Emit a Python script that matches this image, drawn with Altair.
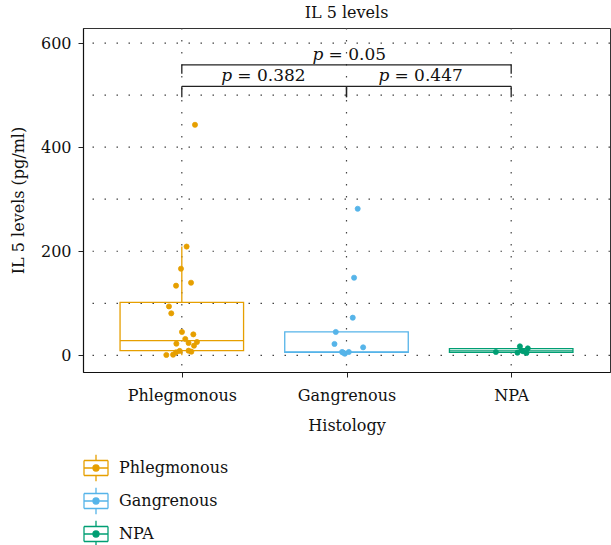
import json
import altair as alt
import pandas as pd

# ---------------- data ----------------
groups = ["Phlegmonous", "Gangrenous", "NPA"]
colors = ["#E69F00", "#56B4E9", "#009E73"]
group_pos = [1, 2, 3]

phleg_vals = [443, 209, 166.5, 139.6, 133.9, 94, 80.7, 45, 40.3, 31.5, 25.7, 23.8,
              22.5, 18.6, 9, 7.1, 8.5, 5.8, 1.3, 0.8]
phleg_jit = [0.080, 0.029, -0.005, 0.056, -0.035, -0.078, -0.064, 0.001, 0.070, 0.021,
             0.092, 0.041, -0.033, 0.074, 0.041, 0.058, -0.013, -0.035, -0.053, -0.094]
gang_vals = [281.7, 149.2, 72.4, 45, 21.9, 15.4, 6.5, 3.3, 6.5, 5.2]
gang_jit = [0.068, 0.046, 0.038, -0.065, -0.073, 0.101, -0.027, -0.010, 0.014, -0.020]
npa_vals = [6.5, 17.3, 13.4, 5.2, 7.7, 4.6, 9.5]
npa_jit = [-0.093, 0.053, 0.101, 0.038, 0.073, 0.093, 0.061]

q1 = [9, 5.8, 5.8]
median = [28.2, 6.5, 8.5]
q3 = [101.8, 45, 12.9]
whisk_lo = [0, 5.8, 5.8]
whisk_hi = [209, 45, 12.9]

br_x1 = [1, 1, 2]
br_x2 = [3, 2, 3]
br_y = [558, 517, 517]
br_tip = [541, 496, 496]
p_rest = ["= 0.05", "= 0.382", "= 0.447"]
p_x = [1.794, 1.240, 2.194]
p_y = [568, 527.5, 527.5]

y_grid = [0, 100, 200, 300, 400, 500, 600]
y_ticks = [0, 200, 400, 600]

FONT = "DejaVu Serif"
BOX_HALF = 0.375

# ---------------- tables ----------------
pts = pd.DataFrame({
    "group": [groups[0]] * len(phleg_vals) + [groups[1]] * len(gang_vals) + [groups[2]] * len(npa_vals),
    "val": phleg_vals + gang_vals + npa_vals,
    "xj": [group_pos[0] + j for j in phleg_jit] + [group_pos[1] + j for j in gang_jit]
          + [group_pos[2] + j for j in npa_jit],
})
box = pd.DataFrame({"group": groups, "pos": group_pos, "q1": q1, "median": median,
                    "q3": q3, "lo": whisk_lo, "hi": whisk_hi})
brk = pd.DataFrame({"x1": br_x1, "x2": br_x2, "y": br_y, "tip": br_tip})
legs = pd.DataFrame({"x": br_x1 + br_x2, "y": br_y + br_y, "tip": br_tip + br_tip})
lab = pd.DataFrame({"x": p_x, "y": p_y, "rest": p_rest})
gh = pd.DataFrame({"v": y_grid})
gv = pd.DataFrame({"v": group_pos})

xscale = alt.Scale(domain=[0.4, 3.6], nice=False, zero=False)
yscale = alt.Scale(domain=[-32, 629], nice=False, zero=False)
cscale = alt.Scale(domain=groups, range=colors)

yaxis = alt.Axis(
    values=y_ticks, grid=False, title="IL 5 levels (pg/ml)", titleFont=FONT,
    titleFontSize=16, titleFontWeight="normal", titleColor="#111", titlePadding=14,
    labelFont=FONT, labelFontSize=16, labelColor="#111", labelPadding=7,
    tickSize=5, tickColor="#222", domainColor="#111", domainWidth=1.2)
xaxis = alt.Axis(
    values=group_pos, grid=False, title="Histology", titleFont=FONT, titleFontSize=16,
    titleFontWeight="normal", titleColor="#111", titlePadding=14,
    labelExpr=f"{json.dumps(groups)}[datum.value - 1]",
    labelFont=FONT, labelFontSize=16, labelColor="#111", labelPadding=10,
    tickSize=5, tickColor="#222", domainColor="#111", domainWidth=1.2)

legend_path = ("M-1,-0.625L1,-0.625M1,-0.625L1,0.625M1,0.625L-1,0.625M-1,0.625L-1,-0.625"
               "M0,-1.1L0,-0.625M0,0.625L0,1.1M-1,0L1,0"
               "M0.25,0A0.25,0.25,0,1,1,-0.25,0A0.25,0.25,0,1,1,0.25,0Z")
leg = alt.Legend(title=None, orient="none", legendX=0, legendY=427, direction="vertical",
                 symbolType=legend_path, symbolSize=576, symbolStrokeWidth=1.3,
                 labelFont=FONT, labelFontSize=16, labelColor="#111", labelOffset=10,
                 rowPadding=1, padding=0)


def X(f):
    return alt.X(f, scale=xscale, axis=xaxis)


def Y(f):
    return alt.Y(f, scale=yscale, axis=yaxis)


def S():
    return alt.Stroke("group:N", scale=cscale, legend=leg)


grid_style = dict(color="#444", strokeWidth=1.2, strokeDash=[1.5, 10.5])

grid_h = alt.Chart(gh).mark_rule(**grid_style).encode(y=Y("v:Q"))
grid_v = alt.Chart(gv).mark_rule(**grid_style).encode(x=X("v:Q"))

box_base = alt.Chart(box).transform_calculate(
    xlo=f"datum.pos - {BOX_HALF}", xhi=f"datum.pos + {BOX_HALF}")

rect = box_base.mark_rect(fillOpacity=0, strokeWidth=1.3).encode(
    x=X("xlo:Q"), x2="xhi:Q", y=Y("q1:Q"), y2="q3:Q", stroke=S())
med = box_base.mark_rule(strokeWidth=1.3).encode(
    x=X("xlo:Q"), x2="xhi:Q", y=Y("median:Q"), stroke=S())
wh_hi = box_base.mark_rule(strokeWidth=1.3).encode(
    x=X("pos:Q"), y=Y("q3:Q"), y2="hi:Q", stroke=S())
wh_lo = box_base.mark_rule(strokeWidth=1.3).encode(
    x=X("pos:Q"), y=Y("lo:Q"), y2="q1:Q", stroke=S())

points = alt.Chart(pts).mark_point(filled=True, size=26, opacity=1, strokeWidth=0.8).encode(
    x=X("xj:Q"), y=Y("val:Q"),
    fill=alt.Fill("group:N", scale=cscale, legend=leg),
    stroke=S(),
)

bline = alt.Chart(brk).mark_rule(color="#222", strokeWidth=1.3).encode(
    x=X("x1:Q"), x2="x2:Q", y=Y("y:Q"))
bleg = alt.Chart(legs).mark_rule(color="#222", strokeWidth=1.3).encode(
    x=X("x:Q"), y=Y("y:Q"), y2="tip:Q")
ptxt = alt.Chart(lab).mark_text(text="p", font=FONT, fontSize=17, fontStyle="italic",
                                align="left", baseline="alphabetic", color="#111").encode(
    x=X("x:Q"), y=Y("y:Q"))
rtxt = alt.Chart(lab).mark_text(font=FONT, fontSize=17, align="left", baseline="alphabetic",
                                dx=16, color="#111").encode(
    x=X("x:Q"), y=Y("y:Q"), text="rest:N")

chart = alt.layer(grid_h, grid_v, rect, med, wh_hi, wh_lo, points, bline, bleg, ptxt, rtxt).properties(
    width=527, height=344,
    title=alt.TitleParams("IL 5 levels", font=FONT, fontSize=16, fontWeight="normal",
                          color="#111", anchor="middle", offset=6),
    autosize=alt.AutoSizeParams(type="none"),
    padding={"left": 83, "top": 28, "right": 1, "bottom": 173},
).configure(background="white").configure_view(stroke="#333", strokeWidth=1)

chart.save("out.html", embed_options={"renderer": "svg", "actions": False})
